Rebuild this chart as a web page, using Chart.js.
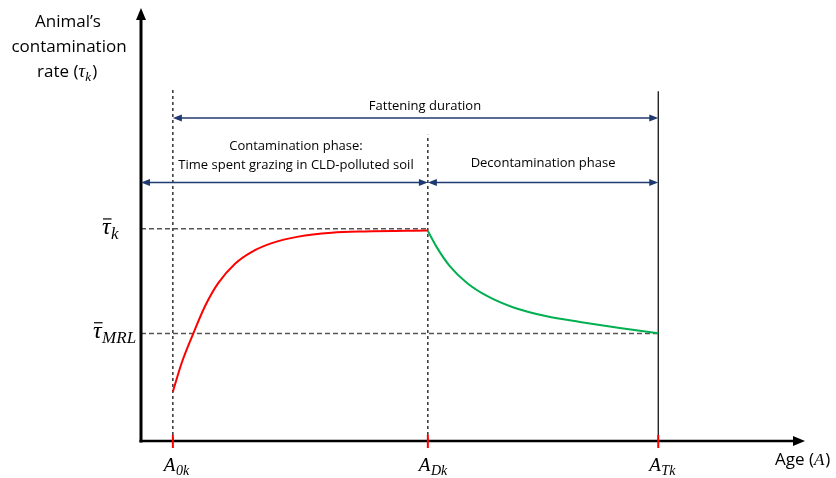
<!DOCTYPE html>
<html><head><meta charset="utf-8">
<script src="https://cdn.jsdelivr.net/npm/chart.js@4"></script>
<style>html,body{margin:0;padding:0;background:#fff}#wrap{width:836px;height:478px}</style>
</head><body><div id="wrap"><canvas id="c" width="836" height="478"></canvas></div>
<script>
// Key ages (x units) and levels (y units)
const ageMarks = {A0k: 4.8, ADk: 43.2, ATk: 77.9};
const levels = {tauK: 49.0, tauMRL: 24.8};
// Contamination phase (red)
const contamX = [4.8, 6.1, 7.9, 9.6, 11.6, 14.2, 16.7, 19.7, 23.7, 28.7, 33.7, 43.2];
const contamY = [11.4, 17.9, 24.9, 31.0, 36.4, 41.0, 43.7, 45.7, 47.2, 48.1, 48.4, 48.6];
// Decontamination phase (green)
const decontX = [43.2, 44.6, 46.5, 49.1, 52.1, 56.0, 61.1, 66.1, 72.1, 77.9];
const decontY = [48.5, 44.6, 40.4, 36.5, 33.5, 30.9, 28.8, 27.5, 26.1, 24.9];
// Duration arrows
const arrowRows = {fattening: 74.6, phases: 59.7};
const vTops = {A0k: 81.1, ADk: 70.7, ATk: 80.8};

const pts = (xs, ys) => xs.map((x, i) => ({x, y: ys[i]}));

const datasets = [
  {data: pts(contamX, contamY), borderColor: '#ff0000', borderWidth: 2, cubicInterpolationMode: 'monotone', pointRadius: 0},
  {data: pts(decontX, decontY), borderColor: '#00b050', borderWidth: 2, cubicInterpolationMode: 'monotone', pointRadius: 0},
  {data: [{x: 0, y: levels.tauK}, {x: ageMarks.ADk, y: levels.tauK}], borderColor: '#555', borderWidth: 1.5, borderDash: [5, 3], pointRadius: 0},
  {data: [{x: 0, y: levels.tauMRL}, {x: ageMarks.ATk, y: levels.tauMRL}], borderColor: '#555', borderWidth: 1.5, borderDash: [5, 3], pointRadius: 0},
  {data: [{x: ageMarks.A0k, y: 0}, {x: ageMarks.A0k, y: vTops.A0k}], borderColor: '#000', borderWidth: 1.2, borderDash: [3, 3], pointRadius: 0},
  {data: [{x: ageMarks.ADk, y: 0}, {x: ageMarks.ADk, y: vTops.ADk}], borderColor: '#000', borderWidth: 1.2, borderDash: [3, 3], pointRadius: 0},
  {data: [{x: ageMarks.ATk, y: 0}, {x: ageMarks.ATk, y: vTops.ATk}], borderColor: '#000', borderWidth: 1.2, pointRadius: 0}
];
datasets.forEach(d => { d.showLine = true; d.fill = false; d.clip = false; });

function arrowHead(ctx, x, y, dx, dy, len, half) {
  const px = -dy, py = dx;
  ctx.beginPath();
  ctx.moveTo(x, y);
  ctx.lineTo(x - dx * len + px * half, y - dy * len + py * half);
  ctx.lineTo(x - dx * len - px * half, y - dy * len - py * half);
  ctx.closePath();
  ctx.fill();
}
function dblArrow(ctx, x1, x2, y, color) {
  ctx.strokeStyle = color; ctx.fillStyle = color; ctx.lineWidth = 1.5;
  ctx.beginPath(); ctx.moveTo(x1 + 4, y); ctx.lineTo(x2 - 4, y); ctx.stroke();
  arrowHead(ctx, x1, y, -1, 0, 9, 3.5);
  arrowHead(ctx, x2, y, 1, 0, 9, 3.5);
}
function mathLabel(ctx, x, yBase, main, sub, size, bar) {
  ctx.font = 'italic ' + size + 'px "Liberation Serif"';
  ctx.textAlign = 'left'; ctx.textBaseline = 'alphabetic';
  ctx.fillStyle = '#000';
  const w = ctx.measureText(main).width;
  ctx.fillText(main, x, yBase);
  if (bar) {
    ctx.lineWidth = 1.2; ctx.strokeStyle = '#000';
    ctx.beginPath(); ctx.moveTo(x + 1, yBase - size * 0.62); ctx.lineTo(x + w + 1, yBase - size * 0.62); ctx.stroke();
  }
  ctx.font = 'italic ' + Math.round(size * 0.72) + 'px "Liberation Serif"';
  ctx.fillText(sub, x + w + 0.5, yBase + size * 0.22);
  return w + ctx.measureText(sub).width;
}

const deco = {
  id: 'deco',
  afterDatasetsDraw(chart) {
    const {ctx, scales: {x, y}} = chart;
    const X = v => x.getPixelForValue(v), Y = v => y.getPixelForValue(v);
    ctx.save();
    // axes
    ctx.strokeStyle = '#000'; ctx.fillStyle = '#000'; ctx.lineWidth = 3;
    ctx.beginPath(); ctx.moveTo(X(0), Y(0) + 1.5); ctx.lineTo(X(0), Y(100) + 10); ctx.stroke();
    arrowHead(ctx, X(0), Y(100), 0, -1, 12, 5);
    ctx.lineWidth = 2.5;
    ctx.beginPath(); ctx.moveTo(X(0) - 1.5, Y(0)); ctx.lineTo(X(100) - 10, Y(0)); ctx.stroke();
    arrowHead(ctx, X(100), Y(0), 1, 0, 12, 5);
    // red ticks
    ctx.strokeStyle = '#ff0000'; ctx.lineWidth = 2;
    [ageMarks.A0k, ageMarks.ADk, ageMarks.ATk].forEach(a => {
      ctx.beginPath(); ctx.moveTo(X(a), Y(0) - 6); ctx.lineTo(X(a), Y(0) + 7); ctx.stroke();
    });
    // arrows
    const navy = '#1f3a70';
    dblArrow(ctx, X(ageMarks.A0k), X(ageMarks.ATk), Y(arrowRows.fattening), navy);
    dblArrow(ctx, X(0), X(ageMarks.ADk), Y(arrowRows.phases), navy);
    dblArrow(ctx, X(ageMarks.ADk), X(ageMarks.ATk), Y(arrowRows.phases), navy);
    // texts
    ctx.fillStyle = '#000'; ctx.textAlign = 'center'; ctx.textBaseline = 'middle';
    ctx.font = '13px "Open Sans"';
    ctx.fillText('Fattening duration', 425, Y(arrowRows.fattening) - 12);
    ctx.fillText('Contamination phase:', 296, Y(arrowRows.phases) - 36);
    ctx.fillText('Time spent grazing in CLD-polluted soil', 296, Y(arrowRows.phases) - 17);
    ctx.fillText('Decontamination phase', (X(ageMarks.ADk) + X(ageMarks.ATk)) / 2, Y(arrowRows.phases) - 19);
    // y title
    ctx.font = '17px "Open Sans"';
    ctx.fillText('Animal\u2019s', 68, 22);
    ctx.fillText('contamination', 69, 47);
    ctx.textAlign = 'left';
    ctx.fillText('rate (', 37, 72);
    let wr = ctx.measureText('rate (').width;
    let ww = mathLabel(ctx, 37 + wr, 77, '\u03c4', 'k', 18, false);
    ctx.font = '17px "Open Sans"'; ctx.textBaseline = 'middle';
    ctx.fillText(')', 37 + wr + ww + 1.5, 72);
    // x title
    ctx.fillText('Age (', 775, 460);
    let wa = ctx.measureText('Age (').width;
    ctx.font = 'italic 17px "Liberation Serif"';
    ctx.fillText('A', 775 + wa, 461);
    let wA = ctx.measureText('A').width;
    ctx.font = '17px "Open Sans"';
    ctx.fillText(')', 775 + wa + wA + 1, 460);
    // level labels
    mathLabel(ctx, 102, Y(levels.tauK) + 5, '\u03c4', 'k', 24, true);
    mathLabel(ctx, 93, Y(levels.tauMRL) + 4, '\u03c4', 'MRL', 24, true);
    // age labels
    [['A', '0k', ageMarks.A0k], ['A', 'Dk', ageMarks.ADk], ['A', 'Tk', ageMarks.ATk]].forEach(([m, s, a]) => {
      mathLabel(ctx, X(a) - 9, 471, m, s, 19, false);
    });
    ctx.restore();
  }
};

new Chart(document.getElementById('c'), {
  type: 'scatter',
  data: {datasets},
  options: {
    responsive: false, animation: false,
    layout: {padding: {left: 141, right: 31, top: 8, bottom: 37}},
    plugins: {legend: {display: false}, tooltip: {enabled: false}},
    scales: {
      x: {type: 'linear', min: 0, max: 100, display: false},
      y: {type: 'linear', min: 0, max: 100, display: false}
    }
  },
  plugins: [deco]
});
</script></body></html>
